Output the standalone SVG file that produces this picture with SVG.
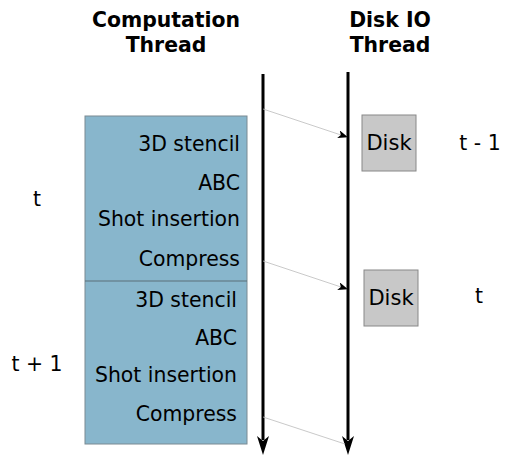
<svg xmlns="http://www.w3.org/2000/svg" width="505" height="455" viewBox="0 0 505 455">
<style>
text{font-family:"DejaVu Sans",sans-serif;font-size:20.4px;fill:#000}
.title{font-weight:bold;text-anchor:middle}
.r{text-anchor:end}
.m{text-anchor:middle}
.disk text{font-size:21px}
.tl{stroke:#000;stroke-width:3;fill:none}
.msg{stroke:#bbb;stroke-width:0.8;fill:none}
.disk rect{fill:#c8c8c8;stroke:#888;stroke-width:1}
</style>
<defs>
<marker id="small" markerUnits="userSpaceOnUse" markerWidth="10" markerHeight="8" refX="9" refY="4" orient="auto" viewBox="0 0 10 8">
<path d="M0,0 L10,4 L0,8 L2.5,4 Z" fill="#000"/>
</marker>
</defs>
<g id="titles">
<text class="title" x="166" y="27">Computation</text>
<text class="title" x="166" y="52">Thread</text>
<text class="title" x="390" y="27">Disk IO</text>
<text class="title" x="390" y="52">Thread</text>
</g>
<g id="computation-block">
<rect x="85" y="116" width="162" height="328" fill="#88b6cc" stroke="#7a8a92" stroke-width="1"/>
<line x1="85" y1="281" x2="247" y2="281" stroke="#5a6e78" stroke-width="1.2"/>
<text class="r" x="240" y="151">3D stencil</text>
<text class="r" x="240" y="190">ABC</text>
<text class="r" x="240" y="226">Shot insertion</text>
<text class="r" x="240" y="266">Compress</text>
<text class="r" x="237" y="307">3D stencil</text>
<text class="r" x="237" y="345">ABC</text>
<text class="r" x="237" y="382">Shot insertion</text>
<text class="r" x="237" y="421">Compress</text>
</g>
<g id="connectors">
<path class="tl" d="M263,74 V440"/>
<path class="tl" d="M348,72 V440"/>
<path d="M257,436 L263,441 L269,436 L263,455 Z" fill="#000"/>
<path d="M342,436 L348,441 L354,436 L348,455 Z" fill="#000"/>
<line class="msg" x1="263" y1="109" x2="347" y2="137" marker-end="url(#small)"/>
<line class="msg" x1="263" y1="261" x2="347" y2="289" marker-end="url(#small)"/>
<line class="msg" x1="263" y1="417" x2="345" y2="444"/>
</g>
<g id="disk1" class="disk">
<rect x="362" y="115" width="54" height="56"/>
<text class="m" x="389" y="150">Disk</text>
</g>
<g id="disk2" class="disk">
<rect x="364" y="270" width="54" height="56"/>
<text class="m" x="391" y="305">Disk</text>
</g>
<g id="labels">
<text class="m" x="37" y="206">t</text>
<text class="m" x="37" y="371">t + 1</text>
<text class="m" x="480" y="150">t - 1</text>
<text class="m" x="479" y="303">t</text>
</g>
</svg>
